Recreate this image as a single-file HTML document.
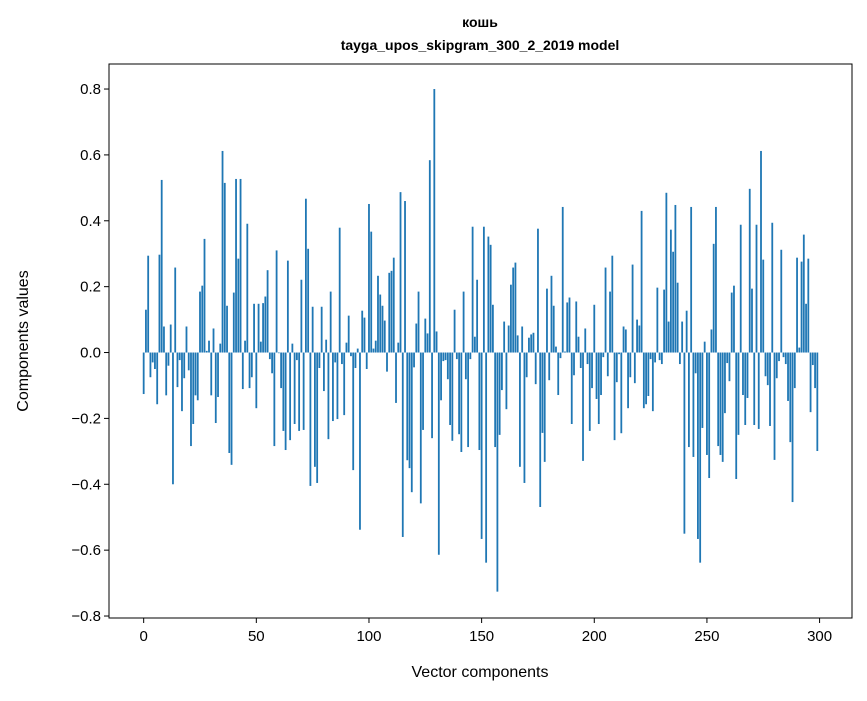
<!DOCTYPE html>
<html><head><meta charset="utf-8"><style>
body{margin:0;background:#fff;}
svg text{font-family:"Liberation Sans","DejaVu Sans",sans-serif;}
</style></head><body>
<svg id="chart" width="867" height="696" xmlns="http://www.w3.org/2000/svg">
<rect width="867" height="696" fill="#fff"/>
<text x="480" y="27" text-anchor="middle" font-size="14" font-weight="bold">кошь</text>
<text x="480" y="50" text-anchor="middle" font-size="14" font-weight="bold">tayga_upos_skipgram_300_2_2019 model</text>
<g id="bars"></g>
<g id="axes"></g>
<text x="480" y="677" text-anchor="middle" font-size="16">Vector components</text>
<text transform="translate(28,341) rotate(-90)" text-anchor="middle" font-size="16">Components values</text>
</svg>
<script>
const values = [-0.126,0.13,0.294,-0.075,-0.03,-0.05,-0.157,0.297,0.524,0.079,
-0.13,-0.04,0.085,-0.4,0.258,-0.105,-0.023,-0.178,-0.078,0.079,
-0.054,-0.284,-0.217,-0.13,-0.145,0.185,0.203,0.345,0.005,0.036,
-0.13,0.073,-0.214,-0.135,0.027,0.612,0.515,0.142,-0.305,-0.341,
0.182,0.527,0.285,0.527,-0.111,0.036,0.391,-0.108,-0.075,0.148,
-0.169,0.148,0.033,0.15,0.17,0.25,-0.02,-0.063,-0.284,0.31,
-0.002,-0.108,-0.238,-0.296,0.279,-0.266,0.027,-0.217,-0.023,-0.238,
0.221,-0.235,0.467,0.315,-0.405,0.139,-0.347,-0.396,-0.047,0.139,
-0.117,0.039,-0.263,0.185,-0.208,-0.03,-0.202,0.379,-0.035,-0.19,
0.03,0.112,-0.011,-0.357,-0.047,0.012,-0.538,0.127,0.106,-0.05,
0.451,0.367,0.012,0.036,0.233,0.176,0.142,0.097,-0.058,0.242,
0.248,0.288,-0.153,0.03,0.487,-0.56,0.46,-0.327,-0.351,-0.424,
-0.045,0.088,0.185,-0.458,-0.235,0.103,0.058,0.584,-0.26,0.8,
0.064,-0.614,-0.145,-0.026,-0.023,-0.081,-0.22,-0.268,0.13,-0.02,
-0.248,-0.302,0.185,-0.081,-0.287,-0.02,0.382,0.048,0.221,-0.296,
-0.566,0.382,-0.638,0.352,0.327,0.145,-0.287,-0.726,-0.25,-0.114,
0.094,-0.172,0.082,0.206,0.258,0.273,0.052,-0.347,0.079,-0.396,
-0.075,0.045,0.055,0.06,-0.096,0.376,-0.469,-0.244,-0.332,0.194,
-0.084,0.233,0.142,0.018,-0.129,-0.017,0.442,0.003,0.152,0.167,
-0.217,-0.069,0.155,0.048,-0.047,-0.329,0.073,-0.035,-0.238,-0.108,
0.145,-0.141,-0.217,-0.129,-0.014,0.258,-0.072,0.185,0.294,-0.266,
-0.09,-0.005,-0.245,0.079,0.07,-0.169,-0.075,0.267,-0.093,0.1,
0.082,0.43,-0.169,-0.157,-0.132,-0.02,-0.178,-0.03,0.197,-0.023,
-0.035,0.191,0.485,0.094,0.373,0.306,0.448,0.212,-0.035,0.094,
-0.55,0.127,-0.287,0.442,-0.317,-0.063,-0.566,-0.638,-0.229,0.033,
-0.311,-0.381,0.07,0.33,0.442,-0.284,-0.311,-0.332,-0.184,-0.032,
-0.087,0.182,0.203,-0.384,-0.25,0.388,-0.129,-0.22,-0.138,0.497,
0.194,-0.22,0.388,-0.232,0.612,0.282,-0.072,-0.099,-0.223,0.394,
-0.326,-0.078,-0.026,0.312,-0.014,-0.035,-0.147,-0.272,-0.454,-0.108,
0.288,0.015,0.276,0.358,0.148,0.285,-0.181,-0.038,-0.108,-0.299];
const yTicks = [-0.8,-0.6,-0.4,-0.2,0.0,0.2,0.4,0.6,0.8];
const yTickLabels = ["\u22120.8","\u22120.6","\u22120.4","\u22120.2","0.0","0.2","0.4","0.6","0.8"];
const xTicks = [0,50,100,150,200,250,300];
const xTickLabels = ["0","50","100","150","200","250","300"];

const NS="http://www.w3.org/2000/svg";
const L=109,R=852,T=64,B=618;
const xmin=-15.39,xmax=314.39,ymin=-0.806,ymax=0.876;
function X(v){return L+(v-xmin)/(xmax-xmin)*(R-L);}
function Y(v){return B-(v-ymin)/(ymax-ymin)*(B-T);}
function mk(tag,attrs,parent){const e=document.createElementNS(NS,tag);for(const k in attrs)e.setAttribute(k,attrs[k]);parent.appendChild(e);return e;}
const bars=document.getElementById('bars');
values.forEach((v,i)=>{
  const x0=X(i-0.4),x1=X(i+0.4),y0=Y(Math.max(v,0)),y1=Y(Math.min(v,0));
  const r=mk('rect',{x:x0,y:y0,width:x1-x0,height:Math.max(y1-y0,0.01),fill:'#1f77b4'},bars);
  
  
});
const ax=document.getElementById('axes');
const frame=mk('rect',{x:L,y:T,width:R-L,height:B-T,fill:'none',stroke:'#000','stroke-width':1},ax);


yTicks.forEach((t,i)=>{
  const y=Y(t);
  const ln=mk('line',{x1:L-5,x2:L,y1:y,y2:y,stroke:'#000','stroke-width':1},ax);
  
  
  const tx=mk('text',{x:L-8,y:y+5,'text-anchor':'end','font-size':15},ax);
  tx.textContent=yTickLabels[i];
  
  
});
xTicks.forEach((t,i)=>{
  const x=X(t);
  const ln=mk('line',{x1:x,x2:x,y1:B,y2:B+5,stroke:'#000','stroke-width':1},ax);
  
  
  const tx=mk('text',{x:x,y:B+23,'text-anchor':'middle','font-size':15},ax);
  tx.textContent=xTickLabels[i];
  
  
});
</script>
</body></html>
